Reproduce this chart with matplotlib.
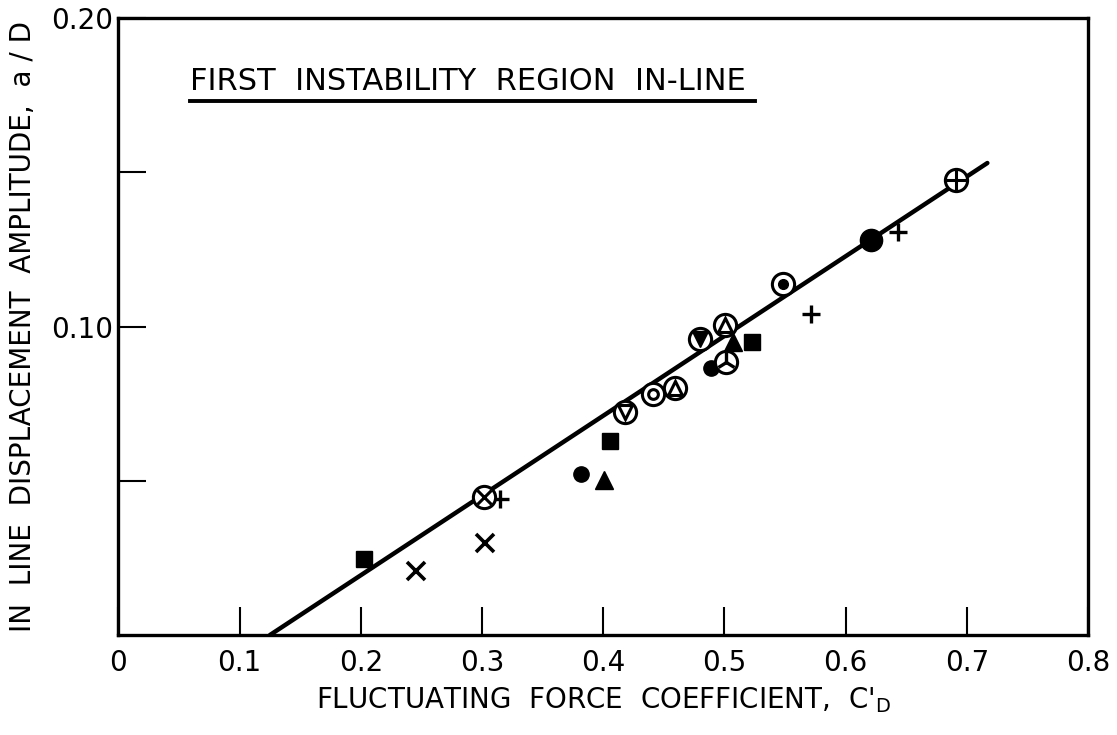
import matplotlib
matplotlib.use("Agg")
import matplotlib.pyplot as plt
import numpy as np

# ── data ─────────────────────────────────────────────────────
fit_x = [0.125, 0.717]
fit_y = [0.0, 0.153]

sq_x = [0.203, 0.406, 0.523]
sq_y = [0.0246, 0.0629, 0.0951]

cross_x = [0.2455, 0.3025]
cross_y = [0.0207, 0.0298]

plus_x = [0.315, 0.5714, 0.643]
plus_y = [0.0441, 0.104, 0.1307]

dot_x = [0.382, 0.489]
dot_y = [0.0522, 0.0864]

tri_x = [0.401, 0.507]
tri_y = [0.0502, 0.0951]

circ_x_x = [0.302]          # circle with x
circ_x_y = [0.0447]

circ_v_x = [0.418]          # circle with open down triangle
circ_v_y = [0.0724]

dcirc_x = [0.441]           # double circle
dcirc_y = [0.078]

circ_tri_x = [0.459, 0.5005]  # circle with up triangle
circ_tri_y = [0.080, 0.1005]

circ_vf_x = [0.480]         # circle with filled down triangle
circ_vf_y = [0.0958]

circ_y_x = [0.501]          # circle with tri mark
circ_y_y = [0.0886]

circ_dot_x = [0.548]        # circle with dot
circ_dot_y = [0.1138]

big_dot_x = [0.621]
big_dot_y = [0.128]

circ_plus_x = [0.691]
circ_plus_y = [0.1475]

x_ticks = [0, 0.1, 0.2, 0.3, 0.4, 0.5, 0.6, 0.7, 0.8]
x_tick_labels = ["0", "0.1", "0.2", "0.3", "0.4", "0.5", "0.6", "0.7", "0.8"]
y_ticks = [0.05, 0.10, 0.15, 0.20]
y_tick_labels = ["", "0.10", "", "0.20"]

plt.rcParams["font.family"] = ["DejaVu Sans"]
plt.rcParams["mathtext.fontset"] = "dejavusans"

fig = plt.figure(figsize=(11.17, 7.35), dpi=100)
ax = fig.add_axes([0.106, 0.136, 0.868, 0.8395])

ax.plot(fit_x, fit_y, color="black", lw=3.2, solid_capstyle="round", zorder=2)

ring = dict(marker="o", ms=16, mfc="white", mec="black", mew=2.2, ls="none", zorder=3)


def ringed(xs, ys, inner):
    ax.plot(xs, ys, **ring)
    ax.plot(xs, ys, ls="none", color="black", zorder=4, **inner)


ax.plot(sq_x, sq_y, "s", ms=11, color="black", ls="none", zorder=3)
ax.plot(cross_x, cross_y, "x", ms=13, mew=2.6, color="black", ls="none", zorder=3)
ax.plot(plus_x, plus_y, "+", ms=13, mew=2.4, color="black", ls="none", zorder=3)
ax.plot(dot_x, dot_y, "o", ms=11, color="black", ls="none", zorder=3)
ax.plot(tri_x, tri_y, "^", ms=13, color="black", ls="none", zorder=3)

ringed(circ_x_x, circ_x_y, dict(marker="x", ms=10, mew=2.2))
ringed(circ_v_x, circ_v_y, dict(marker="v", ms=10, mfc="white", mec="black", mew=2.2))
ringed(dcirc_x, dcirc_y, dict(marker="o", ms=7, mfc="white", mec="black", mew=2.2))
ringed(circ_tri_x, circ_tri_y, dict(marker="^", ms=10, mfc="white", mec="black", mew=2.2))
ringed(circ_vf_x, circ_vf_y, dict(marker="v", ms=11, mfc="black", mec="black"))
ringed(circ_y_x, circ_y_y, dict(marker="2", ms=14, mew=2.4))
ringed(circ_dot_x, circ_dot_y, dict(marker="o", ms=7, mfc="black", mec="black"))
ringed(circ_plus_x, circ_plus_y, dict(marker="+", ms=15, mew=2.2))
ax.plot(big_dot_x, big_dot_y, "o", ms=16, color="black", ls="none", zorder=3)

ax.set_xlim(0, 0.8)
ax.set_ylim(0, 0.20)
ax.set_xticks(x_ticks)
ax.set_xticklabels(x_tick_labels, fontsize=20)
ax.set_yticks(y_ticks)
ax.set_yticklabels(y_tick_labels, fontsize=20)
ax.tick_params(axis="both", direction="in", length=20, width=1.5, pad=4)
ax.tick_params(axis="x", pad=10)

for side in ["left", "top", "right", "bottom"]:
    ax.spines[side].set_linewidth(2.4)

ax.set_xlabel(r"FLUCTUATING  FORCE  COEFFICIENT,  C$'_{\mathrm{D}}$", fontsize=20, labelpad=6)
ax.set_ylabel("IN  LINE  DISPLACEMENT  AMPLITUDE,  a / D", fontsize=20, labelpad=10)

ax.text(0.0742, 0.897, "FIRST  INSTABILITY  REGION  IN-LINE", transform=ax.transAxes,
        fontsize=22, va="center", ha="left")
ax.plot([0.0742, 0.657], [0.865, 0.865], transform=ax.transAxes, color="black", lw=2.8)

plt.savefig("out.png", dpi=100)
